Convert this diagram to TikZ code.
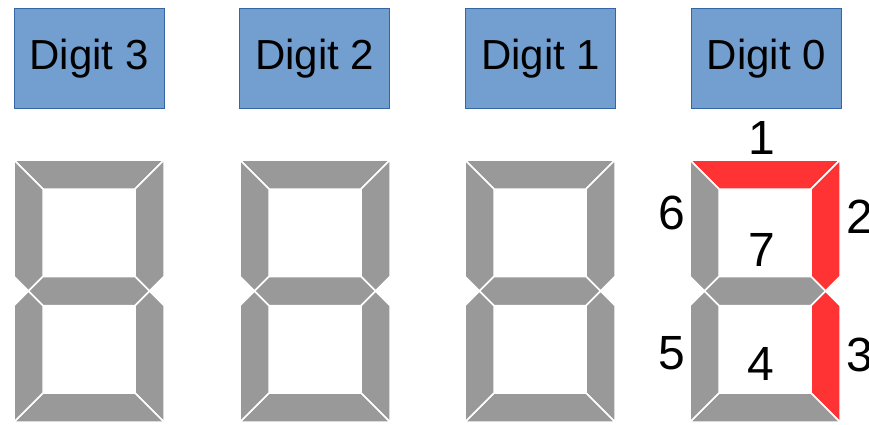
\documentclass[tikz,border=0pt]{standalone}
\usepackage{fontspec}
\setmainfont{Liberation Sans}
\usetikzlibrary{positioning}
\definecolor{segoff}{HTML}{999999}
\definecolor{segon}{HTML}{FF3333}
\definecolor{boxfill}{HTML}{729FCF}
\definecolor{boxline}{HTML}{3465A4}

% one seven-segment display: #1 = left edge, #2..#8 = colours of segments 1..7
\newcommand{\segdigit}[8]{%
  \begin{scope}[shift={(#1,160)}]
    \filldraw[seg, fill=#2] (0,0) -- (150,0) -- (121,29) -- (29,29) -- cycle;
    \filldraw[seg, fill=#3] (150,0) -- (150,116.5) -- (135.5,131) -- (121,116.5) -- (121,29) -- cycle;
    \filldraw[seg, fill=#4] (150,262) -- (150,145.5) -- (135.5,131) -- (121,145.5) -- (121,233) -- cycle;
    \filldraw[seg, fill=#5] (0,262) -- (150,262) -- (121,233) -- (29,233) -- cycle;
    \filldraw[seg, fill=#6] (0,262) -- (0,145.5) -- (14.5,131) -- (29,145.5) -- (29,233) -- cycle;
    \filldraw[seg, fill=#7] (0,0) -- (0,116.5) -- (14.5,131) -- (29,116.5) -- (29,29) -- cycle;
    \filldraw[seg, fill=#8] (14.5,131) -- (29,116.5) -- (121,116.5) -- (135.5,131) -- (121,145.5) -- (29,145.5) -- cycle;
  \end{scope}}

\begin{document}
\begin{tikzpicture}[
        x=1pt, y=-1pt,
        seg/.style={draw=white, line width=1.5pt, line join=round},
        digitbox/.style={draw=boxline, fill=boxfill, line width=0.8pt, minimum width=150pt,
                         minimum height=100pt, inner sep=0pt, font=\fontsize{42}{50}\selectfont},
        segnum/.style={inner sep=0pt, font=\fontsize{48}{56}\selectfont},
        node distance=75pt
    ]
        \path[use as bounding box, clip] (0,0) rectangle (869,424);

        \node[digitbox] (d3) at (89,58.5) {Digit 3};
        \node[digitbox, right=of d3] (d2) {Digit 2};
        \node[digitbox, right=of d2] (d1) {Digit 1};
        \node[digitbox, right=of d1] (d0) {Digit 0};

        \segdigit{14}{segoff}{segoff}{segoff}{segoff}{segoff}{segoff}{segoff}
        \segdigit{240}{segoff}{segoff}{segoff}{segoff}{segoff}{segoff}{segoff}
        \segdigit{465}{segoff}{segoff}{segoff}{segoff}{segoff}{segoff}{segoff}
        \segdigit{690}{segon}{segon}{segon}{segoff}{segoff}{segoff}{segoff}

        % segment numbers of digit 0
        \node[segnum] (s1) at (762,138) {1};
        \node[segnum] (s2) at (860,217) {2};
        \node[segnum] (s3) at (860,355) {3};
        \node[segnum] (s4) at (761,364) {4};
        \node[segnum] (s5) at (672,353) {5};
        \node[segnum] (s6) at (672,213) {6};
        \node[segnum] (s7) at (762,250) {7};
    \end{tikzpicture}
\end{document}
